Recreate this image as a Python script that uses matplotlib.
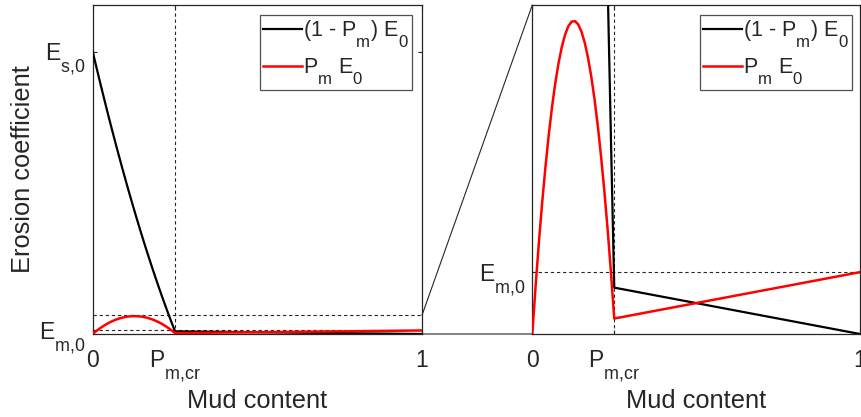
import matplotlib
matplotlib.use("Agg")
import matplotlib.pyplot as plt
from matplotlib.patches import ConnectionPatch

try:
    import matplotlib._mathtext as _mt
    _mt.FontConstantsBase.sub1 = 0.95
    _mt.FontConstantsBase.sub2 = 0.95
    _mt.SHRINK_FACTOR = 0.78
except Exception:
    pass

plt.rcParams['font.family'] = ['Liberation Sans', 'DejaVu Sans']
plt.rcParams['mathtext.fontset'] = 'custom'
plt.rcParams['mathtext.rm'] = 'Liberation Sans'
plt.rcParams['mathtext.it'] = 'Liberation Sans'
plt.rcParams['mathtext.bf'] = 'Liberation Sans:bold'

# ---- data ----
pm = [0.00, 0.01, 0.02, 0.03, 0.04, 0.05, 0.06, 0.07, 0.08, 0.09, 0.10,
      0.11, 0.12, 0.13, 0.14, 0.15, 0.16, 0.17, 0.18, 0.19, 0.20,
      0.21, 0.22, 0.23, 0.24, 0.25, 1.00]
sand_E = [1.0000, 0.9509, 0.9026, 0.8551, 0.8083, 0.7624, 0.7172, 0.6729,
          0.6293, 0.5865, 0.5445, 0.5033, 0.4629, 0.4233, 0.3844, 0.3464,
          0.3091, 0.2727, 0.2370, 0.2021, 0.1680, 0.1347, 0.1022, 0.07046,
          0.03952, 0.009375, 0.0]
mud_E = [0.0, 0.009605, 0.01842, 0.02645, 0.03368, 0.04013, 0.04578, 0.05065,
         0.05472, 0.05801, 0.06050, 0.06221, 0.06312, 0.06325, 0.06258,
         0.06113, 0.05888, 0.05585, 0.05202, 0.04741, 0.04200, 0.03580,
         0.02882, 0.02105, 0.01248, 0.003125, 0.0125]
Es0 = 1.0
Em0 = 0.0125
Pmcr = 0.25
left_ymax = 1.165
zoom_top = 0.0665

legend_labels = [r'(1 - $\mathrm{P}_{\mathrm{m}}$) $\mathrm{E}_{0}$',
                 r'$\mathrm{P}_{\mathrm{m}}$ $\mathrm{E}_{0}$']
xtick_labels = ['0', r'$\mathrm{P}_{\mathrm{m{,}cr}}$', '1']
ytick_labels_left = [r'$\mathrm{E}_{\mathrm{m{,}0}}$', r'$\mathrm{E}_{\mathrm{s{,}0}}$']
ytick_labels_right = [r'$\mathrm{E}_{\mathrm{m{,}0}}$']

TXT = '#262626'
W, H = 861, 417
fig = plt.figure(figsize=(W / 100, H / 100), dpi=100)

axL = fig.add_axes([92.7 / W, (H - 334) / H, 329.3 / W, 329 / H])
axR = fig.add_axes([532.3 / W, (H - 334) / H, 327.7 / W, 329 / H])

dash = dict(color=TXT, lw=0.8, ls=(0, (3, 2.5)), zorder=1)

def style(ax):
    for s in ax.spines.values():
        s.set_color(TXT)
        s.set_linewidth(0.9)
    ax.tick_params(direction='in', length=3, width=0.8, colors=TXT,
                   labelsize=16.5, top=True, right=True)
    ax.tick_params(axis='x', pad=11)
    ax.tick_params(axis='y', pad=5)
    ax.set_xlim(0, 1)
    ax.set_xticks([0, Pmcr, 1])
    ax.set_xticklabels(xtick_labels)
    ax.set_xlabel('Mud content', fontsize=18.3, color=TXT, labelpad=3)

# left panel
axL.plot(pm, sand_E, color='black', lw=1.6, zorder=3, label=legend_labels[0])
axL.plot(pm, mud_E, color='red', lw=1.8, zorder=3, label=legend_labels[1])
axL.axvline(Pmcr, **dash)
axL.axhline(zoom_top, **dash)
axL.axhline(Em0, **dash)
axL.set_ylim(0, left_ymax)
style(axL)
axL.set_yticks([Em0, Es0])
axL.set_yticklabels(ytick_labels_left)
axL.set_ylabel('Erosion coefficient', fontsize=18.3, color=TXT, labelpad=3)

# right panel
axR.plot(pm, sand_E, color='black', lw=1.6, zorder=3, label=legend_labels[0])
axR.plot(pm, mud_E, color='red', lw=1.8, zorder=3, label=legend_labels[1])
axR.axvline(Pmcr, **dash)
axR.axhline(Em0, **dash)
axR.set_ylim(0, zoom_top)
style(axR)
axR.set_yticks([Em0])
axR.set_yticklabels(ytick_labels_right)

for ax, bx in ((axL, 0.9696), (axR, 0.9747)):
    leg = ax.legend(loc='upper right', bbox_to_anchor=(bx, 0.9696),
                    borderaxespad=0, fontsize=15.5, frameon=True, fancybox=False,
                    handlelength=1.8, handletextpad=0.05, borderpad=0.15,
                    labelspacing=0.32)
    leg.get_frame().set_edgecolor(TXT)
    leg.get_frame().set_linewidth(0.9)
    for t in leg.get_texts():
        t.set_color(TXT)

# zoom connection lines
for xyA, xyB in (((1, zoom_top), (0, 1)), ((1, 0), (0, 0))):
    cp = ConnectionPatch(xyA=xyA, coordsA=axL.transData,
                         xyB=xyB, coordsB=axR.transAxes,
                         color=TXT, lw=0.8)
    fig.add_artist(cp)

fig.savefig('out.png', dpi=100)
